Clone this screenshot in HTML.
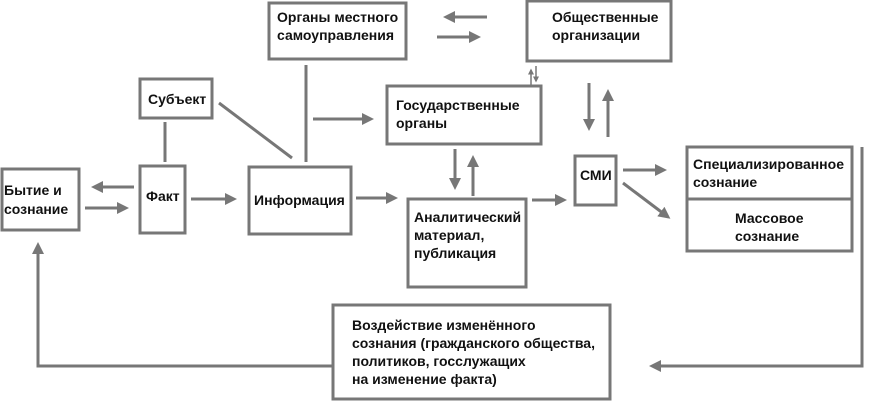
<!DOCTYPE html>
<html><head><meta charset="utf-8"><style>
html,body{margin:0;padding:0;background:#fff;}
svg text{font-family:"Liberation Sans",Arial,sans-serif;font-weight:bold;font-size:14px;fill:#111;}
</style></head><body>
<svg width="871" height="402" viewBox="0 0 871 402" xmlns="http://www.w3.org/2000/svg">
<defs>
<marker id="a" markerWidth="4" markerHeight="4" refX="3" refY="2" orient="auto" markerUnits="strokeWidth">
<path d="M0,0 L4,2 L0,4 z" fill="#777"/></marker>
</defs>
<g fill="none" stroke="#777" stroke-width="3">
<rect x="269" y="3" width="137" height="56"/>
<rect x="527" y="1" width="144" height="60"/>
<rect x="140" y="79" width="72" height="39"/>
<rect x="387" y="86" width="154" height="58"/>
<rect x="2" y="169" width="77" height="61"/>
<rect x="140" y="166" width="45" height="67"/>
<rect x="249" y="167" width="102" height="67"/>
<rect x="408" y="199" width="118" height="88"/>
<rect x="575" y="156" width="41" height="49"/>
<rect x="687" y="147" width="165" height="104"/>
<line x1="687" y1="199" x2="852" y2="199"/>
<rect x="333" y="305" width="277" height="94"/>
<line x1="165" y1="122" x2="165" y2="162"/>
<line x1="219" y1="103" x2="292" y2="158"/>
<line x1="306" y1="65" x2="306" y2="162"/>
<polyline points="862,147 862,366 652,366" marker-end="url(#a)"/>
<polyline points="333,366 38,366 38,245" marker-end="url(#a)"/>
</g>
<g stroke="#777" stroke-width="3" marker-end="url(#a)">
<line x1="134" y1="187" x2="94" y2="187"/>
<line x1="85" y1="208" x2="126" y2="208"/>
<line x1="191" y1="199" x2="234" y2="199"/>
<line x1="356" y1="198" x2="395" y2="198"/>
<line x1="313" y1="119" x2="371" y2="119"/>
<line x1="487" y1="17" x2="446" y2="17"/>
<line x1="437" y1="37" x2="478" y2="37"/>
<line x1="589" y1="83" x2="589" y2="128"/>
<line x1="608" y1="137" x2="608" y2="92"/>
<line x1="455" y1="149" x2="455" y2="187"/>
<line x1="473" y1="196" x2="473" y2="158"/>
<line x1="532" y1="200" x2="564" y2="200"/>
<line x1="623" y1="170" x2="664" y2="170"/>
<line x1="623" y1="183" x2="668" y2="217"/>
</g>
<g stroke="#777" stroke-width="1.5" marker-end="url(#a)">
<line x1="531" y1="85" x2="531" y2="70"/>
<line x1="536" y1="66" x2="536" y2="81"/>
</g>
<text x="277" y="22">Органы местного</text>
<text x="277" y="40">самоуправления</text>
<text x="552" y="22">Общественные</text>
<text x="552" y="40">организации</text>
<text x="148" y="104">Субъект</text>
<text x="396" y="110">Государственные</text>
<text x="396" y="128">органы</text>
<text x="4" y="195">Бытие и</text>
<text x="4" y="214">сознание</text>
<text x="146" y="201">Факт</text>
<text x="254" y="205">Информация</text>
<text x="414" y="222">Аналитический</text>
<text x="414" y="240">материал,</text>
<text x="414" y="258">публикация</text>
<text x="580" y="180">СМИ</text>
<text x="693" y="169">Специализированное</text>
<text x="693" y="187">сознание</text>
<text x="735" y="223">Массовое</text>
<text x="735" y="241">сознание</text>
<text x="352" y="330">Воздействие изменённого</text>
<text x="352" y="348">сознания (гражданского общества,</text>
<text x="352" y="366">политиков, госслужащих</text>
<text x="352" y="384">на изменение факта)</text>
</svg>
</body></html>
